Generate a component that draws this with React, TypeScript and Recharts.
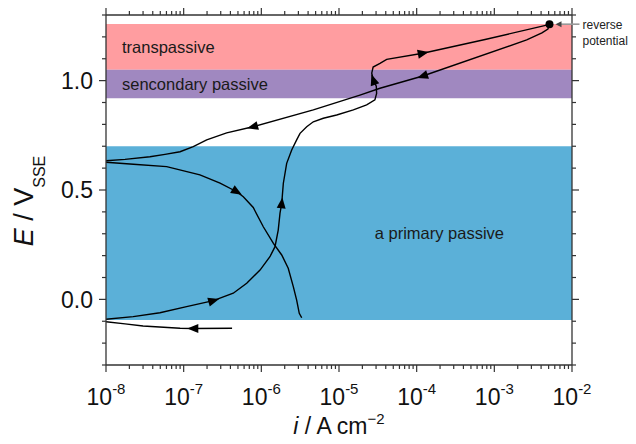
import {
  ComposedChart,
  Line,
  XAxis,
  YAxis,
  ReferenceArea,
  ReferenceDot,
} from "recharts";

// scan segments, in scan order (i in A cm^-2, E in V vs SSE)
const cathodicStart = [
  { i: 4.2e-7, E: -0.132 },
  { i: 1.33e-7, E: -0.133, arrow: true },
  { i: 9.0e-8, E: -0.132 },
  { i: 3.0e-8, E: -0.122 },
  { i: 1.76e-8, E: -0.112 },
  { i: 1.0e-8, E: -0.102 },
];

const forwardScan = [
  { i: 1.0e-8, E: -0.091 },
  { i: 2.24e-8, E: -0.079 },
  { i: 4.95e-8, E: -0.061 },
  { i: 1.09e-7, E: -0.033 },
  { i: 2.41e-7, E: -0.006, arrow: true },
  { i: 4.35e-7, E: 0.028 },
  { i: 6.48e-7, E: 0.074 },
  { i: 9.62e-7, E: 0.134 },
  { i: 1.29e-6, E: 0.195 },
  { i: 1.5e-6, E: 0.241 },
  { i: 1.65e-6, E: 0.317 },
  { i: 1.74e-6, E: 0.394 },
  { i: 1.83e-6, E: 0.439, arrow: true },
  { i: 1.92e-6, E: 0.531 },
  { i: 2.12e-6, E: 0.622 },
  { i: 2.46e-6, E: 0.683 },
  { i: 2.85e-6, E: 0.729 },
  { i: 3.15e-6, E: 0.759 },
  { i: 3.84e-6, E: 0.789 },
  { i: 4.67e-6, E: 0.812 },
  { i: 6.28e-6, E: 0.828 },
  { i: 9.33e-6, E: 0.843 },
  { i: 1.53e-5, E: 0.866 },
  { i: 2.27e-5, E: 0.889 },
  { i: 2.9e-5, E: 0.912 },
  { i: 3.05e-5, E: 0.942 },
  { i: 3.02e-5, E: 0.975 },
  { i: 2.77e-5, E: 1.003, arrow: true },
  { i: 2.64e-5, E: 1.034 },
  { i: 2.75e-5, E: 1.062 },
  { i: 3.37e-5, E: 1.079 },
  { i: 4.11e-5, E: 1.097 },
  { i: 1.2e-4, E: 1.125, arrow: true },
  { i: 7.6e-4, E: 1.188 },
  { i: 4.72e-3, E: 1.254 },
  { i: 5.13e-3, E: 1.258 },
];

const reverseScan = [
  { i: 5.13e-3, E: 1.258 },
  { i: 4.9e-3, E: 1.236 },
  { i: 4.1e-3, E: 1.218 },
  { i: 2.61e-3, E: 1.186 },
  { i: 1.2e-4, E: 1.021, arrow: true },
  { i: 3.37e-5, E: 0.965 },
  { i: 1.86e-5, E: 0.934 },
  { i: 4.67e-6, E: 0.866 },
  { i: 7.8e-7, E: 0.789, arrow: true },
  { i: 3.58e-7, E: 0.761 },
  { i: 1.98e-7, E: 0.729 },
  { i: 1.33e-7, E: 0.698 },
  { i: 8.98e-8, E: 0.675 },
  { i: 5.75e-8, E: 0.663 },
  { i: 3.68e-8, E: 0.652 },
  { i: 1.76e-8, E: 0.64 },
  { i: 1.0e-8, E: 0.634 },
];

const reverseCathodic = [
  { i: 1.0e-8, E: 0.627 },
  { i: 2.25e-8, E: 0.618 },
  { i: 6.04e-8, E: 0.607 },
  { i: 1.62e-7, E: 0.569 },
  { i: 2.94e-7, E: 0.531 },
  { i: 4.82e-7, E: 0.492, arrow: true },
  { i: 5.86e-7, E: 0.469 },
  { i: 7.87e-7, E: 0.42 },
  { i: 1.06e-6, E: 0.332 },
  { i: 1.43e-6, E: 0.256 },
  { i: 1.83e-6, E: 0.203 },
  { i: 2.22e-6, E: 0.142 },
  { i: 2.58e-6, E: 0.058 },
  { i: 2.85e-6, E: -0.003 },
  { i: 3.08e-6, E: -0.064 },
  { i: 3.31e-6, E: -0.084 },
];

const reversePoint = { i: 5.13e-3, E: 1.258 };

// potential regions
const regions = [
  { name: "transpassive", from: 1.05, to: 1.259, color: "#ff9da0" },
  { name: "sencondary passive", from: 0.92, to: 1.05, color: "#a088c0" },
  { name: "a primary passive", from: -0.094, to: 0.7, color: "#5bb0d8" },
];

const decades = [-8, -7, -6, -5, -4, -3, -2];
const mantissas = [1, 2, 3, 4, 5, 6, 7, 8, 9];
const eTicks = [
  -0.3, -0.2, -0.1, 0, 0.1, 0.2, 0.3, 0.4, 0.5, 0.6, 0.7, 0.8, 0.9, 1.0, 1.1,
  1.2, 1.3,
];
const eLabels = [0, 0.5, 1.0];

const iTicks: number[] = [];
decades.forEach((d) => {
  if (d === -2) iTicks.push(Math.pow(10, d));
  else mantissas.forEach((m) => iTicks.push(m * Math.pow(10, d)));
});

const axisColor = "#333";
const font = "'Liberation Sans', Arial, sans-serif";

const isDecade = (v: number) => {
  const l = Math.log10(v);
  return Math.abs(l - Math.round(l)) < 1e-6;
};
const isLabelled = (v: number) => eLabels.some((e) => Math.abs(e - v) < 1e-6);

const BottomTick = ({ x, y, payload }: any) => {
  const v = payload.value;
  const major = isDecade(v);
  return (
    <g>
      <line x1={x} x2={x} y1={y} y2={y + (major ? 7 : 4)} stroke={axisColor} strokeWidth={1.2} />
      {major && (
        <text x={x} y={y + 40} textAnchor="middle" fontSize={23} fill="#111">
          10
          <tspan dy={-11} fontSize={15}>
            {Math.round(Math.log10(v))}
          </tspan>
        </text>
      )}
    </g>
  );
};

const TopTick = ({ x, y, payload }: any) => (
  <line x1={x} x2={x} y1={y} y2={y - (isDecade(payload.value) ? 7 : 4)} stroke={axisColor} strokeWidth={1.2} />
);

const LeftTick = ({ x, y, payload }: any) => {
  const v = payload.value;
  const major = isLabelled(v);
  return (
    <g>
      <line x1={x} x2={x - (major ? 7 : 4)} y1={y} y2={y} stroke={axisColor} strokeWidth={1.2} />
      {major && (
        <text x={x - 13} y={y} dy="0.36em" textAnchor="end" fontSize={23} fill="#111">
          {v.toFixed(1)}
        </text>
      )}
    </g>
  );
};

const RightTick = ({ x, y, payload }: any) => (
  <line x1={x} x2={x + (isLabelled(payload.value) ? 7 : 4)} y1={y} y2={y} stroke={axisColor} strokeWidth={1.2} />
);

// triangle arrow heads placed on flagged points, pointing along the scan
const makeArrowDot = (series: any[]) => (props: any) => {
  const { cx, cy, index, payload, points } = props;
  if (!payload || !payload.arrow) return <g key={`d${index}`} />;
  let ang = 0;
  if (points && points[index - 1] && points[index + 1]) {
    const a = points[index - 1];
    const b = points[index + 1];
    ang = (Math.atan2(b.y - a.y, b.x - a.x) * 180) / Math.PI;
  } else {
    const a = series[index - 1];
    const b = series[index + 1];
    const dx = (Math.log10(b.i) - Math.log10(a.i)) * 77.7;
    const dy = -(b.E - a.E) * 218.75;
    ang = (Math.atan2(dy, dx) * 180) / Math.PI;
  }
  return (
    <polygon
      key={`d${index}`}
      points="6,0 -5,-4.5 -5,4.5"
      transform={`translate(${cx},${cy}) rotate(${ang})`}
      fill="#000"
    />
  );
};

const ReverseMarker = ({ cx, cy }: any) => (
  <g>
    <line x1={cx + 9} x2={cx + 30} y1={cy} y2={cy} stroke="#999" strokeWidth={1.6} />
    <polygon points={`${cx + 6},${cy} ${cx + 12},${cy - 3} ${cx + 12},${cy + 3}`} fill="#444" />
    <circle cx={cx} cy={cy} r={4} fill="#000" />
    <text x={cx + 33} y={cy} dy="0.36em" fontSize={12} fill="#222">
      reverse
    </text>
    <text x={cx + 33} y={cy + 16} dy="0.36em" fontSize={12} fill="#222">
      potential
    </text>
  </g>
);

const series = [cathodicStart, forwardScan, reverseScan, reverseCathodic];

export default function App() {
  return (
    <div style={{ fontFamily: font, margin: -8, width: 636, height: 444 }}>
      <ComposedChart
        width={636}
        height={444}
        margin={{ top: 14, right: 54, bottom: 0, left: 0 }}
      >
        <XAxis
          xAxisId="bottom"
          dataKey="i"
          type="number"
          scale="log"
          domain={[1e-8, 1e-2]}
          allowDataOverflow
          ticks={iTicks}
          interval={0}
          tickSize={0}
          tickMargin={0}
          tick={<BottomTick />}
          height={79}
          axisLine={{ stroke: axisColor, strokeWidth: 1.3 }}
          label={{
            content: ({ viewBox }: any) => (
              <text
                x={viewBox.x + viewBox.width / 2}
                y={viewBox.y + 69}
                textAnchor="middle"
                fontSize={23}
                fill="#111"
              >
                <tspan fontStyle="italic">i</tspan> / A cm
                <tspan dy={-10} fontSize={15}>
                  −2
                </tspan>
              </text>
            ),
          }}
        />
        <XAxis
          xAxisId="top"
          orientation="top"
          dataKey="i"
          type="number"
          scale="log"
          domain={[1e-8, 1e-2]}
          allowDataOverflow
          ticks={iTicks}
          interval={0}
          tickSize={0}
          tickMargin={0}
          tick={<TopTick />}
          height={1}
          axisLine={{ stroke: axisColor, strokeWidth: 1.3 }}
        />
        <YAxis
          yAxisId="left"
          type="number"
          domain={[-0.3, 1.3]}
          allowDataOverflow
          ticks={eTicks}
          interval={0}
          tickSize={0}
          tickMargin={0}
          tick={<LeftTick />}
          width={106}
          axisLine={{ stroke: axisColor, strokeWidth: 1.3 }}
          label={{
            content: ({ viewBox }: any) => {
              const x = 33;
              const y = viewBox.y + viewBox.height / 2 + 11;
              return (
                <text
                  x={x}
                  y={y}
                  transform={`rotate(-90, ${x}, ${y})`}
                  textAnchor="middle"
                  fontSize={27}
                  fill="#111"
                >
                  <tspan fontStyle="italic">E</tspan> / V
                  <tspan dy={12} fontSize={16}>
                    SSE
                  </tspan>
                </text>
              );
            },
          }}
        />
        <YAxis
          yAxisId="right"
          orientation="right"
          type="number"
          domain={[-0.3, 1.3]}
          allowDataOverflow
          ticks={eTicks}
          interval={0}
          tickSize={0}
          tickMargin={0}
          tick={<RightTick />}
          width={10}
          axisLine={{ stroke: axisColor, strokeWidth: 1.3 }}
        />

        {regions.map((r, k) => (
          <ReferenceArea
            key={r.name}
            xAxisId="bottom"
            yAxisId="left"
            y1={r.from}
            y2={r.to}
            fill={r.color}
            fillOpacity={1}
            stroke="none"
            label={{
              value: r.name,
              position: k === 2 ? "insideRight" : "insideLeft",
              offset: k === 2 ? 68 : 16,
              fontSize: 16.5,
              fill: "#1a1a1a",
            }}
          />
        ))}

        {series.map((s, k) => (
          <Line
            key={k}
            xAxisId="bottom"
            yAxisId="left"
            data={s}
            dataKey="E"
            type="linear"
            stroke="#000"
            strokeWidth={1.4}
            dot={makeArrowDot(s)}
            activeDot={false}
            isAnimationActive={false}
          />
        ))}

        <ReferenceDot
          xAxisId="bottom"
          yAxisId="left"
          x={reversePoint.i}
          y={reversePoint.E}
          r={4}
          shape={<ReverseMarker />}
        />
      </ComposedChart>
    </div>
  );
}
